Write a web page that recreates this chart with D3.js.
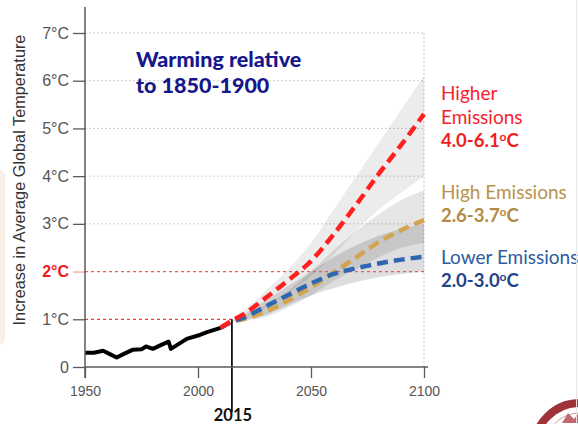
<!DOCTYPE html>
<html>
<head>
<meta charset="utf-8">
<script src="https://cdn.jsdelivr.net/npm/d3@7"></script>
<style>
  html, body { margin: 0; padding: 0; background: #ffffff; }
  svg { display: block; }
</style>
</head>
<body>
<svg id="chart" width="578" height="424"></svg>
<script>
// ---- data -------------------------------------------------------------
const yTicks = [0, 1, 2, 3, 4, 5, 6, 7];
const xTicks = [1950, 2000, 2050, 2100];
const markYear = 2015;

// observed warming, 1950-2010
const histYears  = [1950, 1954, 1958, 1961, 1964, 1967, 1971, 1975, 1977, 1980, 1984, 1987, 1988, 1991, 1995, 2000, 2004, 2010];
const histValues = [0.30, 0.30, 0.34, 0.27, 0.20, 0.27, 0.36, 0.37, 0.43, 0.38, 0.47, 0.53, 0.38, 0.47, 0.59, 0.66, 0.73, 0.82];

// projected warming, central estimates
const projYears  = [2010, 2015, 2020, 2030, 2040, 2050, 2060, 2070, 2080, 2090, 2100];
const higherMid  = [0.82, 0.97, 1.10, 1.45, 1.82, 2.22, 2.78, 3.40, 4.05, 4.66, 5.30];
const highMid    = [0.82, 0.95, 1.00, 1.16, 1.40, 1.67, 1.98, 2.30, 2.62, 2.87, 3.08];
const lowerMid   = [0.82, 0.95, 1.03, 1.27, 1.51, 1.75, 1.95, 2.07, 2.17, 2.25, 2.31];

// likely ranges
const bandYears  = [2015, 2030, 2040, 2050, 2060, 2070, 2080, 2090, 2100];
const higherHi   = [0.97, 1.60, 2.05, 2.60, 3.30, 4.00, 4.70, 5.40, 6.10];
const higherLo   = [0.97, 1.25, 1.55, 1.90, 2.35, 2.85, 3.30, 3.65, 4.00];
const highHi     = [0.95, 1.30, 1.60, 2.00, 2.45, 2.85, 3.20, 3.50, 3.70];
const highLo     = [0.95, 1.05, 1.25, 1.50, 1.80, 2.05, 2.30, 2.50, 2.60];
const lowerHi    = [0.95, 1.40, 1.70, 2.00, 2.30, 2.55, 2.75, 2.90, 3.00];
const lowerLo    = [0.95, 1.10, 1.30, 1.50, 1.65, 1.78, 1.88, 1.95, 2.00];

const scenarioNames  = [["Higher", "Emissions"], ["High Emissions"], ["Lower Emissions"]];
const scenarioRanges = ["4.0-6.1", "2.6-3.7", "2.0-3.0"];
const refLines = [1, 2];

// ---- layout -----------------------------------------------------------
const svg = d3.select("#chart");
const x = d3.scaleLinear().domain([1950, 2100]).range([85, 424]);
const y = d3.scaleLinear().domain([0, 7]).range([367, 33]);

const axisGray = "#5a5a5a";
const scen = [
  { mid: higherMid, hi: higherHi, lo: higherLo, color: "#ff1f1f", text: "#f5222d", bold: "#f01d22", band: 0.075 },
  { mid: highMid,   hi: highHi,   lo: highLo,   color: "#d2a44f", text: "#b8924c", bold: "#b38b45", band: 0.10 },
  { mid: lowerMid,  hi: lowerHi,  lo: lowerLo,  color: "#2f66b2", text: "#2e5c9c", bold: "#1f4487", band: 0.13 }
];

// faint slide panel at the left edge
svg.append("rect").attr("x", -8).attr("y", 170).attr("width", 13).attr("height", 175)
  .attr("rx", 6).attr("fill", "#f9efe7");

// horizontal grid
svg.append("g").selectAll("line")
  .data(yTicks.filter(d => d > 0 && !refLines.includes(d)))
  .join("line")
  .attr("x1", x(1950)).attr("x2", x(2100))
  .attr("y1", d => y(d)).attr("y2", d => y(d))
  .attr("stroke", "#cfcfcf").attr("stroke-width", 1).attr("stroke-dasharray", "2,2");

// vertical guide at 2100
svg.append("line")
  .attr("x1", x(2100)).attr("x2", x(2100))
  .attr("y1", y(7)).attr("y2", y(0))
  .attr("stroke", "#c8c8c8").attr("stroke-width", 1).attr("stroke-dasharray", "2,2");

// uncertainty bands
const area = d3.area()
  .x((d, i) => x(bandYears[i]))
  .y0(d => y(d[0])).y1(d => y(d[1]))
  .curve(d3.curveMonotoneX);
svg.append("g").selectAll("path")
  .data(scen)
  .join("path")
  .attr("d", s => area(s.lo.map((v, i) => [v, s.hi[i]])))
  .attr("fill", "#000").attr("fill-opacity", s => s.band);

// reference lines at 1°C (up to the present) and 2°C
svg.append("line")
  .attr("x1", x(1950)).attr("x2", x(markYear))
  .attr("y1", y(1)).attr("y2", y(1))
  .attr("stroke", "#f03c3c").attr("stroke-width", 1.3).attr("stroke-dasharray", "3,3");
svg.append("line")
  .attr("x1", x(1950)).attr("x2", x(2100))
  .attr("y1", y(2)).attr("y2", y(2))
  .attr("stroke", "#f25a5a").attr("stroke-width", 1.2).attr("stroke-dasharray", "3,3");

// observed record
const histLine = d3.line().x((d, i) => x(histYears[i])).y(d => y(d));
svg.append("path")
  .attr("d", histLine(histValues))
  .attr("fill", "none").attr("stroke", "#000").attr("stroke-width", 4)
  .attr("stroke-linejoin", "round");

// 2015 marker
svg.append("line")
  .attr("x1", x(markYear)).attr("x2", x(markYear))
  .attr("y1", y(1)).attr("y2", 412)
  .attr("stroke", "#111").attr("stroke-width", 1.8);

// projections (lowest drawn first so the higher paths sit on top)
const projLine = d3.line().x((d, i) => x(projYears[i])).y(d => y(d)).curve(d3.curveMonotoneX);
svg.append("g").selectAll("path")
  .data([scen[1], scen[2], scen[0]])
  .join("path")
  .attr("d", s => projLine(s.mid))
  .attr("fill", "none").attr("stroke", s => s.color)
  .attr("stroke-width", 4.5).attr("stroke-dasharray", "11,6");

// y axis
const yAxis = svg.append("g")
  .attr("transform", `translate(${x(1950)},0)`)
  .call(d3.axisLeft(y).tickValues(yTicks).tickSize(12).tickPadding(4)
    .tickFormat(d => d === 0 ? "0" : d + "°C"));
yAxis.select(".domain").remove();
yAxis.selectAll(".tick line").attr("stroke", d => d === 2 ? "#f5a0a0" : axisGray).attr("stroke-width", 1.3);
yAxis.selectAll(".tick text")
  .attr("font-family", "'Liberation Sans', Arial, sans-serif")
  .attr("font-size", 16)
  .attr("font-weight", d => d === 2 ? "bold" : "normal")
  .attr("fill", d => d === 2 ? "#ee1c1c" : "#555");
svg.append("line")
  .attr("x1", x(1950)).attr("x2", x(1950))
  .attr("y1", 7).attr("y2", y(0) + 11)
  .attr("stroke", axisGray).attr("stroke-width", 1.5);

// x axis
const xAxis = svg.append("g")
  .attr("transform", `translate(0,${y(0)})`)
  .call(d3.axisBottom(x).tickValues(xTicks).tickSize(11).tickPadding(8).tickFormat(d3.format("d")));
xAxis.select(".domain").remove();
xAxis.selectAll(".tick line").attr("stroke", axisGray).attr("stroke-width", 1.3);
xAxis.selectAll(".tick text")
  .attr("font-family", "'Liberation Sans', Arial, sans-serif")
  .attr("font-size", 14).attr("fill", "#555");
svg.append("line")
  .attr("x1", x(1950)).attr("x2", x(2100) + 4)
  .attr("y1", y(0)).attr("y2", y(0))
  .attr("stroke", axisGray).attr("stroke-width", 1.5);

svg.append("text")
  .attr("x", x(markYear) + 1).attr("y", 421)
  .attr("text-anchor", "middle")
  .attr("font-family", "Lato, 'Open Sans', sans-serif")
  .attr("font-weight", "bold").attr("font-size", 16.5).attr("fill", "#111")
  .text("2015");

// y axis title
svg.append("text")
  .attr("transform", "translate(25,180) rotate(-90)")
  .attr("text-anchor", "middle")
  .attr("font-family", "'Liberation Sans', Arial, sans-serif")
  .attr("font-size", 16.3).attr("fill", "#333")
  .text("Increase in Average Global Temperature");

// heading
const head = svg.append("text")
  .attr("font-family", "Lato, 'Open Sans', sans-serif")
  .attr("font-weight", "900").attr("font-size", 21.5).attr("fill", "#17178c");
head.append("tspan").attr("x", 136).attr("y", 67).text("Warming relative");
head.append("tspan").attr("x", 136).attr("y", 93).text("to 1850-1900");

// scenario labels
const labelFont = "Lato, 'Open Sans', sans-serif";
const labelPos = [[100, 123.5, 147], [198.5, 222], [263.5, 287]];
scen.forEach((s, k) => {
  const pos = labelPos[k];
  scenarioNames[k].forEach((line, j) => {
    svg.append("text")
      .attr("x", 441).attr("y", pos[j])
      .attr("font-family", labelFont).attr("font-size", 19)
      .attr("fill", s.text).text(line);
  });
  const t = svg.append("text")
    .attr("x", 441).attr("y", pos[pos.length - 1])
    .attr("font-family", labelFont).attr("font-size", 18.5).attr("font-weight", "bold")
    .attr("fill", s.bold);
  t.append("tspan").text(scenarioRanges[k]);
  t.append("tspan").attr("font-size", 12).attr("dy", -6.5).text("o");
  t.append("tspan").attr("dy", 6.5).text("C");
});

// partial seal in the lower-right corner
const seal = svg.append("g").attr("transform", "translate(580,449)");
seal.append("circle").attr("r", 46).attr("fill", "#fff").attr("stroke", "#a0333a").attr("stroke-width", 8);
seal.append("circle").attr("r", 36).attr("fill", "none").attr("stroke", "#d19ea0").attr("stroke-width", 1);
seal.append("path").attr("d", "M-18,-26 L-12,-36 L-6,-30 L0,-38 L6,-30 L10,-26 Z").attr("fill", "#c06a70");
svg.append("line").attr("x1", 576.5).attr("x2", 576.5).attr("y1", 0).attr("y2", 424)
  .attr("stroke", "#e6e6e6").attr("stroke-width", 1);
</script>
</body>
</html>
